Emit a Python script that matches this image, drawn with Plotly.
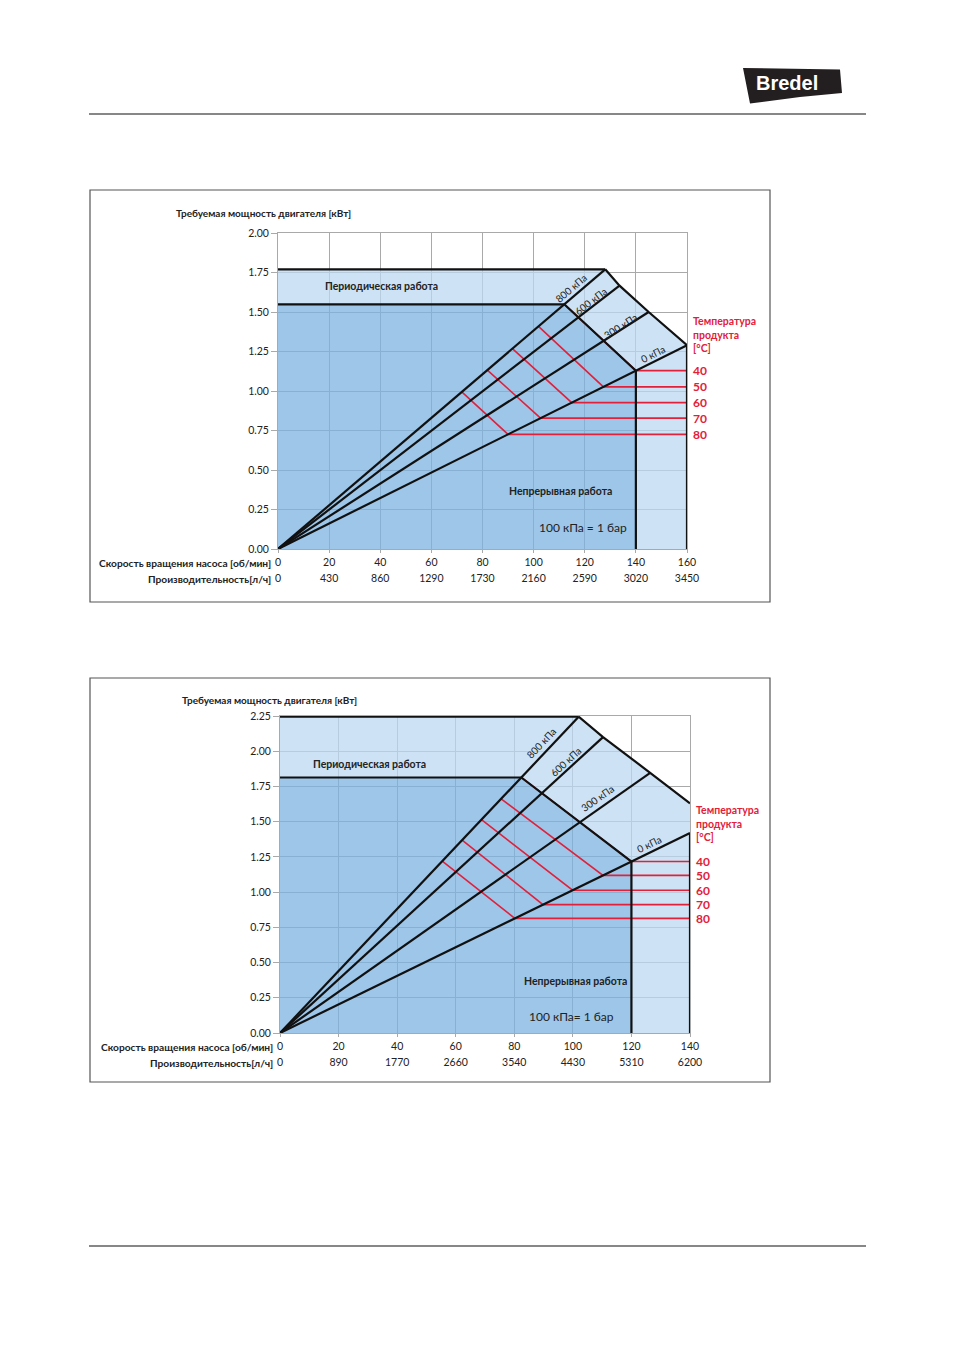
import math
import plotly.graph_objects as go

W, H = 954, 1350
FONT = "Lato"
RED = "#E2203A"
GRID = "#A9A9A9"
DARK_FILL = "rgba(124,179,226,0.75)"
LIGHT_FILL = "rgba(188,216,240,0.75)"

pressure_labels = ["800 кПа", "600 кПа", "300 кПа", "0 кПа"]
temperatures = [40, 50, 60, 70, 80]

# ---------- chart 1 data ----------
c1_rpm = [0, 20, 40, 60, 80, 100, 120, 140, 160]
c1_flow = [0, 430, 860, 1290, 1730, 2160, 2590, 3020, 3450]
c1_kw_ticks = [0, 0.25, 0.5, 0.75, 1.0, 1.25, 1.5, 1.75, 2.0]
c1_end_rpm = [128, 133.6, 145, 160]          # end of 800/600/300/0 kPa lines
c1_end_kw = [1.77, 1.667, 1.50, 1.29]
c1_outer_kw = 1.29                            # intermittent limit at max speed
c1_t_rpm_800 = [112, 101.9, 91.7, 81.9, 71.9]  # temperature limits on 800 kPa line
c1_t_rpm_0 = [140, 127.3, 114.9, 102.7, 90]    # temperature limits on 0 kPa line

# ---------- chart 2 data ----------
c2_rpm = [0, 20, 40, 60, 80, 100, 120, 140]
c2_flow = [0, 890, 1770, 2660, 3540, 4430, 5310, 6200]
c2_kw_ticks = [0, 0.25, 0.5, 0.75, 1.0, 1.25, 1.5, 1.75, 2.0, 2.25]
c2_end_rpm = [102, 110.3, 126.4, 140]
c2_end_kw = [2.245, 2.10, 1.847, 1.42]
c2_outer_kw = 1.63
c2_t_rpm_800 = [82.4, 75.5, 68.8, 62.2, 55.4]
c2_t_rpm_0 = [120, 110.3, 99.9, 89.8, 80.2]


def px(x):
    return x / W


def py(y):
    return 1 - y / H


fig = go.Figure()
annotations = []
shapes = []


def add_chart(ax, ax_over, ay, box, rpm, flow, kw_ticks, end_rpm, end_kw, outer_kw,
              t800, t0, lab_pos, heading_y, period_xy, cont_xy, bar_xy, title_px):
    x0p, y0p, x1p, y1p = box  # plot area in pixels (left, top, right, bottom)
    xmax = rpm[-1]
    ymax = kw_ticks[-1]
    ppx = (x1p - x0p) / xmax
    ppy = (y1p - y0p) / ymax
    xa = "x" + ("" if ax == 1 else str(ax))
    ya = "y" + ("" if ay == 1 else str(ay))
    xo = "x" + str(ax_over)

    slopes = [k / r for k, r in zip(end_kw, end_rpm)]
    s800, s0 = slopes[0], slopes[-1]
    cx = t800[0]
    ctop = s800 * cx
    cr0 = t0[0]
    ckw0 = s0 * cr0
    ptop = end_kw[0]

    common = dict(xaxis=xa, yaxis=ya, hoverinfo="skip", showlegend=False)
    # fills
    fig.add_trace(go.Scatter(x=[0, 0, cx, cr0, cr0, 0], y=[0, ctop, ctop, ckw0, 0, 0],
                             fill="toself", fillcolor=DARK_FILL, mode="none", **common))
    fig.add_trace(go.Scatter(
        x=[0, 0, end_rpm[0], end_rpm[1], end_rpm[2], xmax, xmax, cr0, cr0, cx, 0],
        y=[ctop, ptop, end_kw[0], end_kw[1], end_kw[2], outer_kw, 0, 0, ckw0, ctop, ctop],
        fill="toself", fillcolor=LIGHT_FILL, mode="none", **common))
    # temperature lines
    for i, t in enumerate(temperatures):
        fig.add_trace(go.Scatter(x=[t800[i], t0[i], xmax],
                                 y=[s800 * t800[i], s0 * t0[i], s0 * t0[i]],
                                 mode="lines", line=dict(color=RED, width=1.6), **common))
    blk = dict(mode="lines", line=dict(color="#111111", width=2.2))
    for r, k in zip(end_rpm, end_kw):
        fig.add_trace(go.Scatter(x=[0, r], y=[0, k], **blk, **common))
    fig.add_trace(go.Scatter(x=[end_rpm[0], end_rpm[1], end_rpm[2], xmax],
                             y=[end_kw[0], end_kw[1], end_kw[2], outer_kw], **blk, **common))
    fig.add_trace(go.Scatter(x=[0, end_rpm[0]], y=[ptop, ptop], **blk, **common))
    fig.add_trace(go.Scatter(x=[0, cx, cr0, cr0], y=[ctop, ctop, ckw0, 0], **blk, **common))
    fig.add_trace(go.Scatter(x=[xmax, xmax], y=[0, end_kw[-1]], **blk, **common))
    # dummy for overlay axis
    fig.add_trace(go.Scatter(x=[rpm[0]], y=[kw_ticks[0]], xaxis=xo, yaxis=ya, mode="markers",
                             marker=dict(opacity=0), hoverinfo="skip", showlegend=False))

    axkey = "xaxis" + ("" if ax == 1 else str(ax))
    aykey = "yaxis" + ("" if ay == 1 else str(ay))
    dom_x = [px(x0p), px(x1p)]
    dom_y = [py(y1p), py(y0p)]
    tf = dict(family=FONT, size=10.5, color="#222")
    fig.layout[axkey] = dict(domain=dom_x, range=[0, xmax], anchor=ya, tickmode="array",
                             tickvals=rpm, ticktext=[str(v) for v in rpm], showgrid=True,
                             gridcolor=GRID, gridwidth=1, zeroline=False, showline=True,
                             linecolor=GRID, linewidth=1, mirror=True, ticks="outside",
                             ticklen=3, tickcolor=GRID, automargin=False,
                             tickfont=tf, fixedrange=True)
    fig.layout["xaxis" + str(ax_over)] = dict(overlaying=xa, anchor=ya, side="bottom",
                                             range=[0, xmax], tickmode="array", tickvals=rpm,
                                             ticktext=[str(v) for v in flow], showgrid=False,
                                             zeroline=False, showline=False, ticks="",
                                             ticklabelstandoff=21, automargin=False,
                                             tickfont=tf, fixedrange=True)
    fig.layout[aykey] = dict(domain=dom_y, range=[0, ymax], anchor=xa, tickmode="array",
                             tickvals=kw_ticks, tickformat=".2f", showgrid=True, gridcolor=GRID,
                             zeroline=False, showline=True, linecolor=GRID, mirror=True,
                             ticks="outside", ticklen=6, tickcolor=GRID, automargin=False,
                             tickfont=tf, fixedrange=True)

    # pressure labels along lines
    for lab, (lx, ly), s in zip(pressure_labels, lab_pos, slopes):
        th = math.degrees(math.atan(s * ppy / ppx))
        annotations.append(dict(x=lx, y=ly, xref=xa, yref=ya, text=lab,
                                showarrow=False, textangle=-th,
                                xanchor="center", yanchor="middle",
                                font=dict(family=FONT, size=10, color="#222")))
    # temperature labels
    for i, t in enumerate(temperatures):
        annotations.append(dict(x=xmax, y=s0 * t0[i], xref=xa, yref=ya, text="<b>%d</b>" % t,
                                showarrow=False, xanchor="left", yanchor="middle", xshift=4,
                                font=dict(family=FONT, size=12, color=RED)))
    annotations.append(dict(x=xmax, y=heading_y, xref=xa, yref=ya,
                            text="<b>Температура<br>продукта<br>[°C]</b>", showarrow=False,
                            xanchor="left", yanchor="middle", align="left", xshift=4,
                            font=dict(family=FONT, size=10.5, color=RED)))
    annotations.append(dict(x=period_xy[0], y=period_xy[1], xref=xa, yref=ya,
                            text="<b>Периодическая работа</b>", showarrow=False,
                            font=dict(family=FONT, size=10.5, color="#222")))
    annotations.append(dict(x=cont_xy[0], y=cont_xy[1], xref=xa, yref=ya,
                            text="<b>Непрерывная работа</b>", showarrow=False,
                            font=dict(family=FONT, size=10.5, color="#222")))
    annotations.append(dict(x=bar_xy[0], y=bar_xy[1], xref=xa, yref=ya,
                            text=bar_xy[2], showarrow=False,
                            font=dict(family=FONT, size=12, color="#222")))
    # axis title and row labels
    annotations.append(dict(x=px(title_px[0]), y=py(title_px[1]), xref="paper", yref="paper",
                            text="<b>Требуемая мощность двигателя [кВт]</b>", showarrow=False,
                            xanchor="left", yanchor="middle",
                            font=dict(family=FONT, size=10, color="#222")))
    annotations.append(dict(x=px(x0p - 5), y=py(y1p + 14), xref="paper", yref="paper",
                            text="<b>Скорость вращения насоса [об/мин]</b>", showarrow=False,
                            xanchor="right", yanchor="middle",
                            font=dict(family=FONT, size=10.2, color="#222")))
    annotations.append(dict(x=px(x0p - 5), y=py(y1p + 30), xref="paper", yref="paper",
                            text="<b>Производительность[л/ч]</b>", showarrow=False,
                            xanchor="right", yanchor="middle",
                            font=dict(family=FONT, size=10.2, color="#222")))


add_chart(1, 3, 1, (278, 233, 687, 549), c1_rpm, c1_flow, c1_kw_ticks, c1_end_rpm, c1_end_kw,
          c1_outer_kw, c1_t_rpm_800, c1_t_rpm_0,
          [(114.6, 1.655), (122.4, 1.57), (134.0, 1.41), (146.6, 1.236)], 1.36,
          (40.3, 1.665), (110.7, 0.367), (119.3, 0.139, "100 кПа = 1 бар"), (174, 213))
add_chart(2, 4, 2, (280, 716, 690, 1033), c2_rpm, c2_flow, c2_kw_ticks, c2_end_rpm, c2_end_kw,
          c2_outer_kw, c2_t_rpm_800, c2_t_rpm_0,
          [(89.3, 2.055), (97.4, 1.925), (108.5, 1.665), (126.0, 1.345)], 1.49,
          (30.6, 1.911), (101, 0.371), (99.7, 0.114, "100 кПа= 1 бар"), (180, 700))

# frames
for (l, t, r, b) in [(90, 190, 770, 602), (90, 678, 770, 1082)]:
    shapes.append(dict(type="rect", xref="paper", yref="paper", x0=px(l), x1=px(r),
                       y0=py(b), y1=py(t), line=dict(color="#555", width=1.2)))
# page rules
for yy in (114, 1246):
    shapes.append(dict(type="line", xref="paper", yref="paper", x0=px(89), x1=px(866),
                       y0=py(yy), y1=py(yy), line=dict(color="#111", width=1.2)))
# logo
logo_pts = [(743, 68), (840, 69.5), (842, 93), (800, 97), (750, 103.5)]
path = "M " + " L ".join("%f,%f" % (px(a), py(b)) for a, b in logo_pts) + " Z"
shapes.append(dict(type="path", xref="paper", yref="paper", path=path,
                   fillcolor="#231F20", line=dict(width=0)))
annotations.append(dict(x=px(787), y=py(83), xref="paper", yref="paper", text="<b>Bredel</b>",
                        showarrow=False, xanchor="center", yanchor="middle",
                        font=dict(family="Liberation Sans", size=20, color="white")))

fig.update_layout(width=W, height=H, margin=dict(l=0, r=0, t=0, b=0, autoexpand=False),
                  paper_bgcolor="white", plot_bgcolor="white", showlegend=False,
                  annotations=annotations, shapes=shapes)
fig.write_html("out.html")
